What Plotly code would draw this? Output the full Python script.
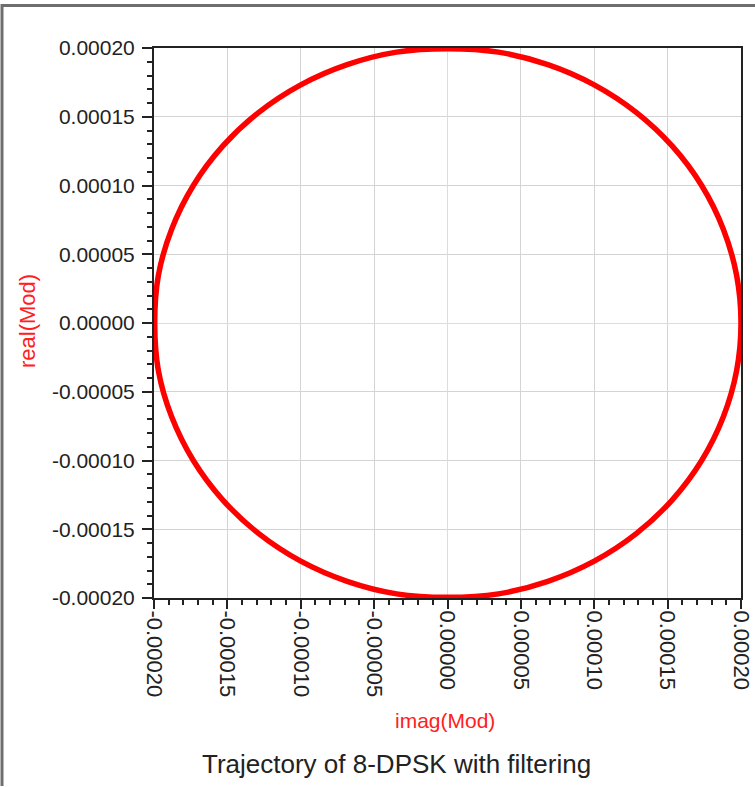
import plotly.graph_objects as go

# Trajectory samples (imag on x, real on y)
imag_mod = [2.000e-4, 1.970e-4, 1.879e-4, 1.732e-4, 1.532e-4, 1.286e-4, 1.000e-4, 0.684e-4, 0.347e-4,
            0.000e-4, -0.347e-4, -0.684e-4, -1.000e-4, -1.286e-4, -1.532e-4, -1.732e-4, -1.879e-4, -1.970e-4,
            -1.995e-4, -1.970e-4, -1.879e-4, -1.732e-4, -1.532e-4, -1.286e-4, -1.000e-4, -0.684e-4, -0.347e-4,
            0.000e-4, 0.347e-4, 0.684e-4, 1.000e-4, 1.286e-4, 1.532e-4, 1.732e-4, 1.879e-4, 1.970e-4, 2.000e-4]
real_mod = [0.000e-4, 0.347e-4, 0.684e-4, 1.000e-4, 1.286e-4, 1.532e-4, 1.732e-4, 1.879e-4, 1.970e-4,
            1.995e-4, 1.970e-4, 1.879e-4, 1.732e-4, 1.532e-4, 1.286e-4, 1.000e-4, 0.684e-4, 0.347e-4,
            0.000e-4, -0.347e-4, -0.684e-4, -1.000e-4, -1.286e-4, -1.532e-4, -1.732e-4, -1.879e-4, -1.970e-4,
            -1.995e-4, -1.970e-4, -1.879e-4, -1.732e-4, -1.532e-4, -1.286e-4, -1.000e-4, -0.684e-4, -0.347e-4, 0.000e-4]

tick_vals = [-0.0002, -0.00015, -0.0001, -0.00005, 0.0, 0.00005, 0.0001, 0.00015, 0.0002]
tick_text = ["-0.00020", "-0.00015", "-0.00010", "-0.00005", "0.00000",
             "0.00005", "0.00010", "0.00015", "0.00020"]

x_title = "imag(Mod)"
y_title = "real(Mod)"
caption = "Trajectory of 8-DPSK with filtering"

W, H = 755, 787
L, R, T, B = 154, 14, 48, 189
pw, ph = W - L - R, H - T - B

def px_x(p):
    return (p - L) / pw

def px_y(p):
    return (H - B - p) / ph

fig = go.Figure()
fig.add_trace(go.Scatter(
    x=imag_mod, y=real_mod, mode="lines",
    line=dict(color="#ff0000", width=5.5, shape="spline", smoothing=1.0),
    showlegend=False, hoverinfo="skip", cliponaxis=False))

font = "Liberation Sans, Arial, sans-serif"
axis_common = dict(
    range=[-0.0002, 0.0002], tickvals=tick_vals, ticktext=tick_text,
    showgrid=True, gridcolor="#d4d4d4", gridwidth=1,
    zeroline=True, zerolinecolor="#ffc4ff", zerolinewidth=1,
    showline=True, linecolor="#222222", linewidth=2, mirror=True,
    ticks="outside", tickwidth=2, tickcolor="#222222",
    ticklabeloverflow="allow",
    minor=dict(dtick=0.00001, tick0=0, ticks="outside", ticklen=5, tickwidth=2,
               tickcolor="#222222", showgrid=False),
)

fig.update_xaxes(**axis_common, tickangle=90, ticklen=9, ticklabelstandoff=-3,
                 tickfont=dict(family=font, size=22, color="#222222"))
fig.update_yaxes(**axis_common, ticklen=10, ticklabelstandoff=3,
                 tickfont=dict(family=font, size=21, color="#222222"))

fig.update_layout(
    width=W, height=H,
    margin=dict(l=L, r=R, t=T, b=B, autoexpand=False),
    paper_bgcolor="white", plot_bgcolor="white",
    showlegend=False,
    annotations=[
        dict(text=x_title, xref="paper", yref="paper", x=px_x(445), y=px_y(720),
             showarrow=False, font=dict(family=font, size=21, color="#ff2020"),
             xanchor="center", yanchor="middle"),
        dict(text=y_title, xref="paper", yref="paper", x=px_x(27), y=px_y(321),
             showarrow=False, textangle=-90, font=dict(family=font, size=22, color="#ff2020"),
             xanchor="center", yanchor="middle"),
        dict(text=caption, xref="paper", yref="paper", x=px_x(396), y=px_y(764),
             showarrow=False, font=dict(family=font, size=26, color="#222222"),
             xanchor="center", yanchor="middle"),
    ],
    shapes=[
        dict(type="line", xref="paper", yref="paper", x0=px_x(2), x1=px_x(2),
             y0=px_y(4), y1=px_y(786), line=dict(color="#6e6e6e", width=3)),
        dict(type="line", xref="paper", yref="paper", x0=px_x(1), x1=px_x(755),
             y0=px_y(5.5), y1=px_y(5.5), line=dict(color="#6e6e6e", width=3)),
    ],
)

post = (
    "document.body.style.margin='0px';"
    "document.body.style.overflow='hidden';"
    "var d=document.createElement('div');"
    "d.style.cssText='position:fixed;left:1px;top:4px;width:754px;height:3px;"
    "background:#6e6e6e;pointer-events:none;z-index:10';"
    "document.body.appendChild(d);"
)

fig.write_html("out.html", config={"displayModeBar": False}, post_script=post)
